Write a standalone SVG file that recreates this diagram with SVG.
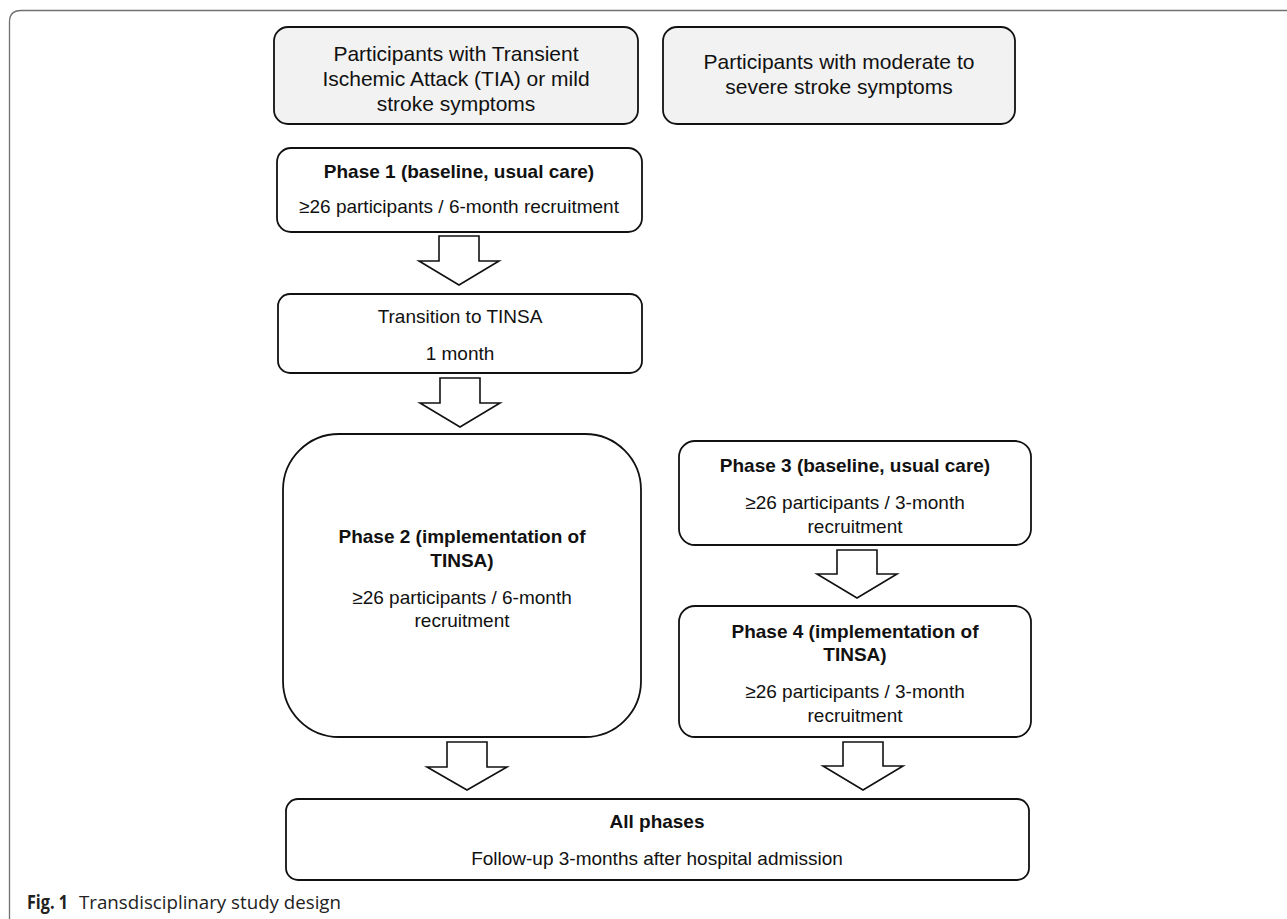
<svg xmlns="http://www.w3.org/2000/svg" width="1287" height="919" viewBox="0 0 1287 919">
<style>
.box{fill:#fff;stroke:#111;stroke-width:1.8}
.gbox{fill:#f2f2f2;stroke:#111;stroke-width:1.8}
.t{font-family:"Liberation Sans",Arial,sans-serif;font-size:19px;fill:#111;text-anchor:middle}
.tl{font-family:"Liberation Sans",Arial,sans-serif;font-size:21px;fill:#111;text-anchor:middle}
.b{font-weight:bold}
.arr{fill:#fff;stroke:#111;stroke-width:1.6;stroke-linejoin:miter}
.cap{font-family:"Open Sans","Noto Sans",sans-serif;font-size:19px;fill:#222}
</style>
<rect width="1287" height="919" fill="#fff"/>
<path d="M9.5,928 V22 Q9.5,10.5 21,10.5 H1300" fill="none" stroke="#707070" stroke-width="1.3"/>
<g id="tia">
<rect class="gbox" x="274" y="27" width="364" height="97" rx="14"/>
<text class="tl" x="456" y="61">Participants with Transient</text>
<text class="tl" x="456" y="86">Ischemic Attack (TIA) or mild</text>
<text class="tl" x="456" y="111">stroke symptoms</text>
</g>
<g id="moderate">
<rect class="gbox" x="663" y="27" width="352" height="97" rx="14"/>
<text class="tl" x="839" y="69">Participants with moderate to</text>
<text class="tl" x="839" y="94">severe stroke symptoms</text>
</g>
<g id="phase1">
<rect class="box" x="277" y="148" width="365" height="84" rx="14"/>
<text class="t b" x="459" y="178">Phase 1 (baseline, usual care)</text>
<text class="t" x="459" y="213">≥26 participants / 6-month recruitment</text>
</g>
<g id="transition">
<rect class="box" x="278" y="294" width="364" height="79" rx="12"/>
<text class="t" x="460" y="323">Transition to TINSA</text>
<text class="t" x="460" y="360">1 month</text>
</g>
<g id="phase2">
<rect class="box" x="283" y="434" width="358" height="303" rx="56"/>
<text class="t b" x="462" y="543">Phase 2 (implementation of</text>
<text class="t b" x="462" y="567">TINSA)</text>
<text class="t" x="462" y="604">≥26 participants / 6-month</text>
<text class="t" x="462" y="627">recruitment</text>
</g>
<g id="phase3">
<rect class="box" x="679" y="441" width="352" height="104" rx="16"/>
<text class="t b" x="855" y="472">Phase 3 (baseline, usual care)</text>
<text class="t" x="855" y="509">≥26 participants / 3-month</text>
<text class="t" x="855" y="533">recruitment</text>
</g>
<g id="phase4">
<rect class="box" x="679" y="606" width="352" height="131" rx="16"/>
<text class="t b" x="855" y="638">Phase 4 (implementation of</text>
<text class="t b" x="855" y="661">TINSA)</text>
<text class="t" x="855" y="698">≥26 participants / 3-month</text>
<text class="t" x="855" y="722">recruitment</text>
</g>
<g id="allphases">
<rect class="box" x="286" y="799" width="743" height="81" rx="12"/>
<text class="t b" x="657" y="828">All phases</text>
<text class="t" x="657" y="865">Follow-up 3-months after hospital admission</text>
</g>
<g id="connectors">
<polygon class="arr" points="439,236 479,236 479,261 499,261 459,285 419,261 439,261"/>
<polygon class="arr" points="440,378 480,378 480,403 500,403 460,427 420,403 440,403"/>
<polygon class="arr" points="447,742 487,742 487,767 507,767 467,790 427,767 447,767"/>
<polygon class="arr" points="837,550 877,550 877,574 897,574 857,598 817,574 837,574"/>
<polygon class="arr" points="843,742 883,742 883,766 903,766 863,790 823,766 843,766"/>
</g>
<g id="caption">
<text class="cap" x="27" y="909"><tspan font-weight="bold" textLength="41" lengthAdjust="spacingAndGlyphs">Fig. 1</tspan><tspan x="79" textLength="262" lengthAdjust="spacingAndGlyphs">Transdisciplinary study design</tspan></text>
</g>
</svg>
